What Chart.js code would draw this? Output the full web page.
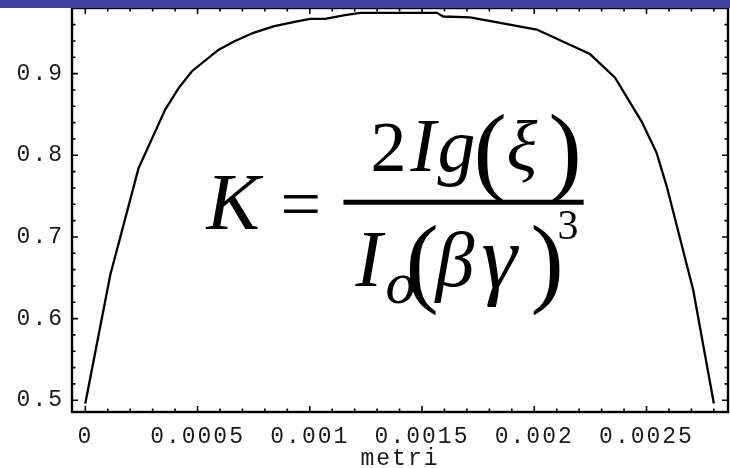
<!DOCTYPE html>
<html>
<head>
<meta charset="utf-8">
<script src="https://cdn.jsdelivr.net/npm/chart.js@4/dist/chart.umd.min.js"></script>
<style>
html, body { margin: 0; padding: 0; background: #fff; }
#box { position: relative; width: 730px; height: 468px; }
#barra { position: absolute; left: 0; top: 0; width: 730px; height: 8px; background: #4141a0; }
</style>
</head>
<body>
<div id="box">
  <canvas id="myChart" width="730" height="468"></canvas>
  <div id="barra"></div>
</div>
<script>
// K lungo il fascio: posizione (metri) e valore
var posizioni = [0, 0.000111, 0.000237, 0.000356, 0.000415, 0.000475, 0.000593, 0.00066, 0.000749,
                 0.000838, 0.000943, 0.001002, 0.001069, 0.00115, 0.001224, 0.001566, 0.001595,
                 0.001714, 0.002011, 0.002248, 0.00236, 0.002479, 0.002545, 0.00259, 0.002708, 0.0028];
var valoriK = [0.496, 0.653, 0.784, 0.856, 0.882, 0.903, 0.929, 0.939, 0.950,
               0.958, 0.964, 0.967, 0.967, 0.9715, 0.9745, 0.9745, 0.970,
               0.969, 0.954, 0.924, 0.895, 0.841, 0.803, 0.762, 0.635, 0.496];

var tickX = [0, 0.0005, 0.001, 0.0015, 0.002, 0.0025];
var etichetteX = ['0', '0.0005', '0.001', '0.0015', '0.002', '0.0025'];
var tickY = [0.5, 0.6, 0.7, 0.8, 0.9];
var etichetteY = ['0.5', '0.6', '0.7', '0.8', '0.9'];

var xMin = -0.0000592, xMax = 0.002863;
var yMin = 0.4856, yMax = 0.9804;

// tacche secondarie
var minoriX = [];
for (var i = 0; i <= 28; i++) minoriX.push(i * 0.0001);
var minoriY = [];
for (var j = 0; j <= 23; j++) minoriY.push(0.5 + j * 0.02);

var fontMono = "'Liberation Mono', monospace";
var serif = "'Liberation Serif', 'Times New Roman', serif";

// formula: [testo, font, dx, dy] rispetto all'inizio della linea di frazione
var formula = [
    ['K', 'italic 80px ' + serif, -137, 27],
    ['=', '72px ' + serif, -63, 26],
    ['2', '72px ' + serif, 27, -31],
    ['I', 'italic 76px ' + serif, 67, -31],
    ['g', 'italic 76px ' + serif, 94, -31],
    ['(', '100px ' + serif, 130, -19],
    ['\u03BE', 'italic 72px ' + serif, 163, -31],
    [')', '100px ' + serif, 205, -19],
    ['I', 'italic 80px ' + serif, 12, 84],
    ['o', 'italic 60px ' + serif, 42, 101],
    ['(', '100px ' + serif, 62, 92],
    ['\u03B2', 'italic 78px ' + serif, 92, 84],
    ['\u03B3', 'italic 90px ' + serif, 138, 86],
    [')', '100px ' + serif, 187, 92],
    ['3', '42px ' + serif, 214, 37]
];

function vicino(lista, v)
{
    return lista.some(function(t){ return Math.abs(t - v) < 1e-9; });
}

function senzaMargini(s)
{
    s.paddingTop = 0; s.paddingBottom = 0;
    s.paddingLeft = 0; s.paddingRight = 0;
}

var spaziatura = {
    id: 'spaziatura',
    beforeDraw: function(chart) { chart.ctx.letterSpacing = '2px'; }
};

var cornice = {
    id: 'cornice',
    afterDatasetsDraw: function(chart)
    {
        var ctx = chart.ctx, a = chart.chartArea;
        var sx = chart.scales.x, sy = chart.scales.y;
        ctx.save();
        ctx.strokeStyle = '#000';
        ctx.lineWidth = 1.6;
        ctx.beginPath();
        minoriX.forEach(function(v){
            var p = sx.getPixelForValue(v);
            var l = vicino(tickX, v) ? 6 : 3.5;
            ctx.moveTo(p, a.bottom); ctx.lineTo(p, a.bottom - l);
            ctx.moveTo(p, a.top); ctx.lineTo(p, a.top + l);
        });
        minoriY.forEach(function(v){
            var p = sy.getPixelForValue(v);
            var l = vicino(tickY, v) ? 6 : 3.5;
            ctx.moveTo(a.left, p); ctx.lineTo(a.left + l, p);
            ctx.moveTo(a.right, p); ctx.lineTo(a.right - l, p);
        });
        ctx.stroke();
        ctx.lineWidth = 2.4;
        ctx.strokeRect(a.left, a.top, a.right - a.left, a.bottom - a.top);
        ctx.restore();
    },
    afterDraw: function(chart)
    {
        var ctx = chart.ctx;
        var x0 = chart.scales.x.getPixelForValue(0.00115);
        var x1 = chart.scales.x.getPixelForValue(0.00222);
        var y0 = chart.scales.y.getPixelForValue(0.7425);
        ctx.save();
        ctx.letterSpacing = '0px';
        ctx.fillStyle = '#000';
        ctx.textAlign = 'left';
        ctx.textBaseline = 'alphabetic';
        formula.forEach(function(f){
            ctx.font = f[1];
            ctx.fillText(f[0], x0 + f[2], y0 + f[3]);
        });
        ctx.fillRect(x0, y0 - 2.5, x1 - x0, 5);
        ctx.restore();
    }
};

var ctx = document.getElementById('myChart').getContext('2d');
var myChart = new Chart(ctx, {
    type: 'scatter',
    data: {
        datasets: [{
            data: posizioni.map(function(p, i){ return {x: p, y: valoriK[i]}; }),
            showLine: true,
            borderColor: '#000',
            borderWidth: 2.3,
            pointRadius: 0,
            tension: 0,
            fill: false
        }]
    },
    options: {
        responsive: false,
        animation: false,
        events: [],
        layout: { padding: { top: 8, right: 2, left: 0, bottom: 0 } },
        plugins: { legend: { display: false }, tooltip: { enabled: false } },
        scales: {
            x: {
                type: 'linear',
                min: xMin, max: xMax,
                grid: { display: false, drawTicks: false, tickLength: 0 },
                border: { display: false },
                afterBuildTicks: function(s){ s.ticks = tickX.map(function(v){ return {value: v}; }); },
                afterFit: function(s){ s.height = 56; senzaMargini(s); },
                ticks: {
                    padding: 11, autoSkip: false, maxRotation: 0,
                    color: '#1a1a1a', font: { family: fontMono, size: 23 },
                    callback: function(v, i){ return etichetteX[i]; }
                },
                title: {
                    display: true, text: 'metri', color: '#1a1a1a',
                    font: { family: fontMono, size: 23, lineHeight: 0.8 },
                    padding: { top: 0, bottom: 0 }
                }
            },
            y: {
                type: 'linear',
                min: yMin, max: yMax,
                grid: { display: false, drawTicks: false, tickLength: 0 },
                border: { display: false },
                afterBuildTicks: function(s){ s.ticks = tickY.map(function(v){ return {value: v}; }); },
                afterFit: function(s){ s.width = 72; senzaMargini(s); },
                ticks: {
                    padding: 8, autoSkip: false,
                    color: '#1a1a1a', font: { family: fontMono, size: 23 },
                    callback: function(v, i){ return etichetteY[i]; }
                }
            }
        }
    },
    plugins: [spaziatura, cornice]
});
</script>
</body>
</html>
